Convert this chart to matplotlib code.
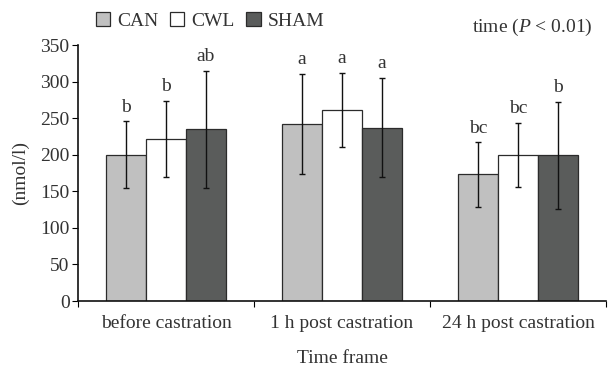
import matplotlib
matplotlib.use("Agg")
import matplotlib.pyplot as plt
import numpy as np

categories = ["before castration", "1 h post castration", "24 h post castration"]
groups = ["CAN", "CWL", "SHAM"]
can_vals = [200, 242, 173]
cwl_vals = [222, 261, 200]
sham_vals = [235, 237, 199]
can_err = [46, 69, 44]
cwl_err = [52, 51, 44]
sham_err = [80, 68, 73]
can_lbl = ["b", "a", "bc"]
cwl_lbl = ["b", "a", "bc"]
sham_lbl = ["ab", "a", "b"]
yticks = [0, 50, 100, 150, 200, 250, 300, 350]

colors = ["#c0c0c0", "#ffffff", "#5a5c5b"]

plt.rcParams['font.family'] = ['Liberation Serif', 'DejaVu Serif']
plt.rcParams['mathtext.fontset'] = 'custom'
plt.rcParams['mathtext.it'] = 'Liberation Serif:italic'
plt.rcParams['mathtext.rm'] = 'Liberation Serif'
txtc = "#333333"
fs = 14

fig = plt.figure(figsize=(6.12, 3.68), dpi=100)
ax = fig.add_axes([78/612, 1-301/368, 528/612, 256/368])

x = np.arange(len(categories))
w = 0.227
vals = [can_vals, cwl_vals, sham_vals]
errs = [can_err, cwl_err, sham_err]
lbls = [can_lbl, cwl_lbl, sham_lbl]
handles = []
for i in range(3):
    xs = x + (i - 1) * w
    b = ax.bar(xs, vals[i], w, color=colors[i], edgecolor="#2b2b2b", linewidth=0.9,
               label=groups[i], zorder=2)
    handles.append(b)
    ax.errorbar(xs, vals[i], yerr=errs[i], fmt='none', ecolor="#111111",
                elinewidth=1.0, capsize=2.3, capthick=1.0, zorder=3)
    for xx, v, e, t in zip(xs, vals[i], errs[i], lbls[i]):
        ax.annotate(t, (xx, v + e), xytext=(0, 4), textcoords='offset points',
                    ha='center', va='bottom', fontsize=fs, color=txtc)

ax.set_xlim(-0.5, 2.5)
ax.set_ylim(0, 350)
ax.set_yticks(yticks)
ax.set_xticks(x)
ax.set_xticklabels(categories, fontsize=fs, color=txtc)
ax.tick_params(axis='x', which='major', length=0, pad=10)
ax.set_xticks([-0.5, 0.5, 1.5, 2.5], minor=True)
ax.tick_params(axis='x', which='minor', length=4, width=0.8, direction='out')
ax.tick_params(axis='y', length=4, width=0.8, labelsize=fs, labelcolor=txtc, pad=2)
for s in ['top', 'right']:
    ax.spines[s].set_visible(False)
for s in ['left', 'bottom']:
    ax.spines[s].set_linewidth(1.2)
    ax.spines[s].set_color("#111111")

ax.set_ylabel("(nmol/l)", fontsize=fs, color=txtc, labelpad=8)
ax.set_xlabel("Time frame", fontsize=fs, color=txtc, labelpad=13)

fig.legend(handles=handles, labels=groups, loc='center', bbox_to_anchor=(210/612, 1-21/368),
           ncol=3, frameon=False, fontsize=fs, handlelength=0.75, handleheight=0.75,
           handletextpad=0.35, columnspacing=0.6, labelcolor=txtc)
fig.text(593/612, 1-27/368, r"time ($\mathit{P}$ < 0.01)", ha='right', va='center',
         fontsize=fs, color=txtc)

fig.savefig("out.png", dpi=100)
